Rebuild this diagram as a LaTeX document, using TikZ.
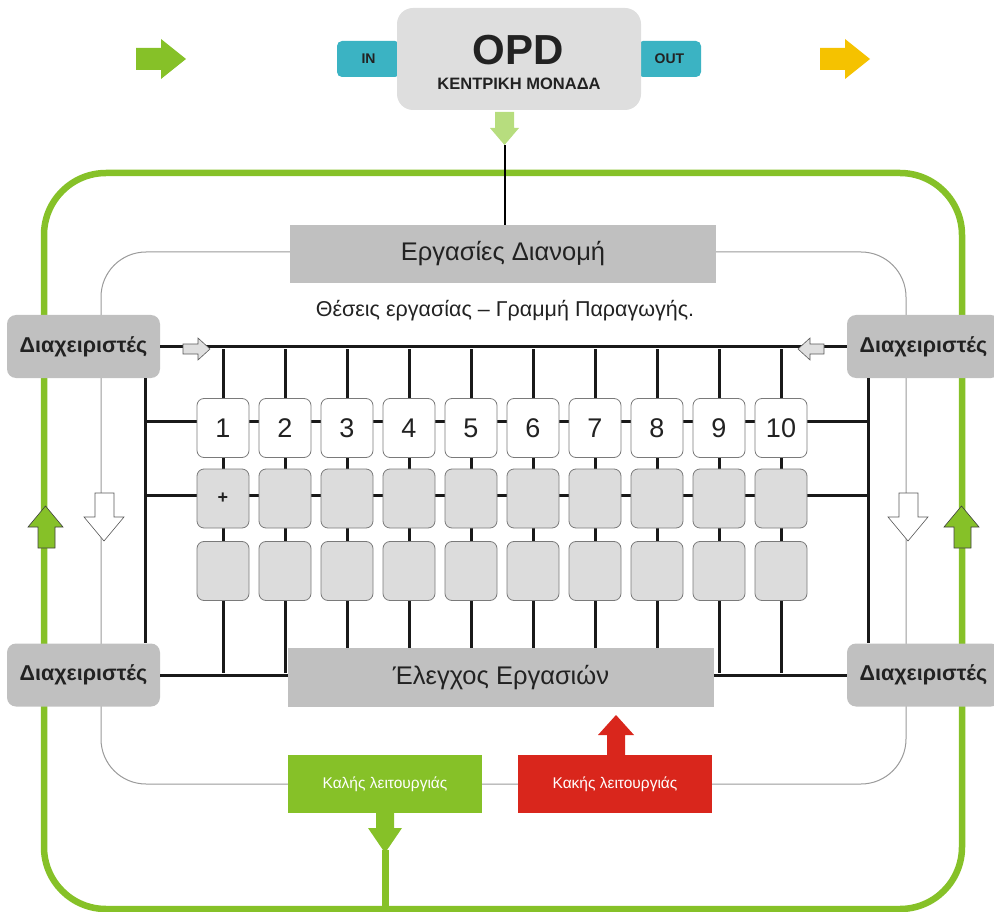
\documentclass[tikz,border=0pt]{standalone}
\usepackage{fontspec}
\setmainfont{Liberation Sans}
\definecolor{boxgray}{HTML}{C0C0C0}
\definecolor{opdgray}{HTML}{DEDEDE}
\definecolor{cellgray}{HTML}{DCDCDC}
\definecolor{cellborder}{HTML}{7A7A7A}
\definecolor{teal}{HTML}{3BB3C3}
\definecolor{grn}{HTML}{86C128}
\definecolor{yel}{HTML}{F5C200}
\definecolor{lgrn}{HTML}{B7DD7E}
\definecolor{redc}{HTML}{D9261C}
\definecolor{txt}{HTML}{222222}
\definecolor{framegray}{HTML}{9A9A9A}
\begin{document}
\begin{tikzpicture}[x=1pt,y=-1pt,
  bus/.style={line width=3pt, black!90},
  gbox/.style={fill=boxgray, inner sep=0pt, text=txt},
  mgr/.style={gbox, rounded corners=9pt, minimum width=153pt, minimum height=63pt, font=\fontsize{21.5}{24}\selectfont\bfseries},
  bigbar/.style={gbox, minimum width=426pt, minimum height=58pt, font=\fontsize{25.5}{28}\selectfont},
  cell/.style={draw=cellborder, line width=0.8pt, rounded corners=7pt, minimum width=52pt, minimum height=59pt, inner sep=0pt, text=txt},
  numcell/.style={cell, fill=white, font=\fontsize{27}{30}\selectfont},
  graycell/.style={cell, fill=cellgray, font=\fontsize{18}{20}\selectfont\bfseries},
  tab/.style={fill=teal, rounded corners=5pt, minimum width=63pt, minimum height=36pt, inner sep=0pt, text=txt, font=\fontsize{14}{16}\selectfont\bfseries},
  state/.style={minimum width=194pt, minimum height=58pt, inner sep=0pt, text=white, font=\fontsize{15.5}{18}\selectfont},
  flatarrow/.style={draw=gray!70!black, line width=0.6pt}
]
\useasboundingbox (0,0) rectangle (994,912);

% outer green frame and thin gray frame
\draw[grn, line width=6.5pt, rounded corners=62pt] (44,173) rectangle (962,909);
\draw[draw=framegray, line width=1pt, rounded corners=45pt] (101,252) rectangle (906,784);

% top arrows
\fill[grn] (136,48) -- (161,48) -- (161,39) -- (186,59) -- (161,79) -- (161,70) -- (136,70) -- cycle;
\fill[yel] (820,48) -- (845,48) -- (845,39) -- (870,59) -- (845,79) -- (845,70) -- (820,70) -- cycle;

% OPD unit
\node[tab] (in) at (368.5,59) {IN};
\node[tab] (out) at (669.5,59) {OUT};
\node[fill=opdgray, rounded corners=16pt, minimum width=244pt, minimum height=102pt, inner sep=0pt] (opd) at (519,59) {};
\node[text=txt, font=\fontsize{42}{46}\selectfont\bfseries, inner sep=0pt] (opdt) at (518,50) {OPD};
\node[text=txt, font=\fontsize{16.5}{18}\selectfont\bfseries, inner sep=0pt] (opds) at (519,84) {ΚΕΝΤΡΙΚΗ ΜΟΝΑΔΑ};
\fill[lgrn] (495,112) -- (514,112) -- (514,128) -- (519,128) -- (504.5,145) -- (490,128) -- (495,128) -- cycle;
\coordinate (opdtip) at (504.5,145);

% managers
\node[mgr] (dTL) at (83.5,346.5) {Διαχειριστές};
\node[mgr] (dBL) at (83.5,675) {Διαχειριστές};
\node[mgr] (dTR) at (923.5,346.5) {Διαχειριστές};
\node[mgr] (dBR) at (923.5,675) {Διαχειριστές};

% top bar
\node[bigbar] (dist) at (503,254) {Εργασίες Διανομή};
\draw[line width=2pt] (opdtip) -- (opdtip |- dist.north);

\node[text=txt, font=\fontsize{21.5}{24}\selectfont, inner sep=0pt] (title) at (505,311) {Θέσεις εργασίας – Γραμμή Παραγωγής.};

% bus lines
\coordinate (lt) at (145,378); \coordinate (lb) at (145,643);
\coordinate (rt) at (868,378); \coordinate (rb) at (868,643);
\draw[bus] (dTL.east) -- (dTR.west);
\draw[bus] (lt) -- (lb);
\draw[bus] (rt) -- (rb);
\draw[bus] (lt |- 0,421) -- (rt |- 0,421);
\draw[bus] (lt |- 0,495) -- (rt |- 0,495);
\foreach \i in {1,...,10} {
  \draw[bus] ({223+62*(\i-1)},349) -- ++(0,324);
}

% bottom bar
\node[bigbar, minimum height=59pt] (ctrl) at (501,677.5) {Έλεγχος Εργασιών};
\draw[bus] (dBL.east) -- (dBL.east -| ctrl.west);
\draw[bus] (dBR.west) -- (dBR.west -| ctrl.east);

% cells
\foreach \i in {1,...,10} {
  \node[numcell] (n\i) at ({223+62*(\i-1)},428) {\i};
  \node[graycell] (a\i) at ({223+62*(\i-1)},498.5) {};
  \node[graycell] (b\i) at ({223+62*(\i-1)},571) {};
}
\node[text=txt, font=\fontsize{18}{20}\selectfont\bfseries, inner sep=0pt] (plus) at (a1) {+};

% small bus arrows
\filldraw[fill=gray!25, flatarrow] (183,344) -- (198,344) -- (198,338) -- (210,349) -- (198,360) -- (198,354) -- (183,354) -- cycle;
\filldraw[fill=gray!25, flatarrow] (824,344) -- (810,344) -- (810,338) -- (798,349) -- (810,360) -- (810,354) -- (824,354) -- cycle;

% white down arrows
\filldraw[fill=white, flatarrow] (95,493) -- (114,493) -- (114,517) -- (124,517) -- (104,541) -- (84,517) -- (95,517) -- cycle;
\filldraw[fill=white, flatarrow] (899,493) -- (918,493) -- (918,517) -- (928,517) -- (908,541) -- (888,517) -- (899,517) -- cycle;

% green up arrows
\filldraw[fill=grn, draw=black!75, line width=0.6pt] (45.5,506) -- (63,527) -- (55,527) -- (55,548) -- (38,548) -- (38,527) -- (28,527) -- cycle;
\filldraw[fill=grn, draw=black!75, line width=0.6pt] (961.5,506) -- (979,527) -- (971,527) -- (971,548) -- (954,548) -- (954,527) -- (944,527) -- cycle;

% state boxes
\node[state, fill=grn] (good) at (385,784) {Καλής λειτουργιάς};
\node[state, fill=redc] (bad) at (615,784) {Κακής λειτουργιάς};
\fill[redc] (616,715) -- (634,735) -- (625,735) -- (625,756) -- (607,756) -- (607,735) -- (598,735) -- cycle;
\fill[grn] (376,812) -- (394,812) -- (394,828) -- (402,828) -- (385,853) -- (368,828) -- (376,828) -- cycle;
\draw[grn, line width=7pt] (385,850) -- (385,909);
\end{tikzpicture}
\end{document}
